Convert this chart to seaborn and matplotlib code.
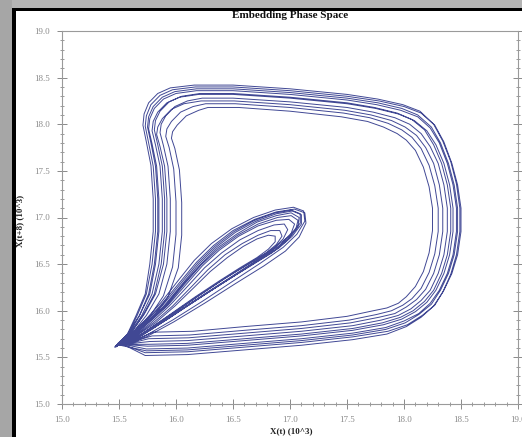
import matplotlib
matplotlib.use("Agg")
import matplotlib.pyplot as plt
from matplotlib.patches import Rectangle
from matplotlib.ticker import MultipleLocator, FormatStrFormatter
import seaborn as sns
import pandas as pd

# ---- traced loops: inner lobe ("ellipse") + outer D-shaped loop, per cycle ----
ellipse_1 = [(15.47,15.62),(15.60,15.72),(15.75,15.88),(15.90,16.06),(16.05,16.28),(16.20,16.50),(16.35,16.68),(16.52,16.84),(16.70,16.96),(16.88,17.04),(17.02,17.07),(17.10,17.03),(17.10,16.93),(17.02,16.80),(16.90,16.67),(16.70,16.52),(16.45,16.33),(16.20,16.13),(15.95,15.93),(15.72,15.75),(15.55,15.64)]
ellipse_2 = [(15.47,15.62),(15.59,15.73),(15.73,15.90),(15.87,16.09),(16.01,16.31),(16.16,16.54),(16.31,16.72),(16.49,16.88),(16.68,17.00),(16.87,17.08),(17.03,17.11),(17.12,17.07),(17.13,16.96),(17.06,16.82),(16.94,16.68),(16.74,16.51),(16.49,16.31),(16.23,16.10),(15.97,15.90),(15.73,15.73),(15.55,15.63)]
ellipse_3 = [(15.48,15.62),(15.62,15.72),(15.78,15.87),(15.94,16.05),(16.10,16.26),(16.25,16.46),(16.40,16.62),(16.56,16.76),(16.72,16.86),(16.86,16.92),(16.95,16.93),(16.98,16.87),(16.94,16.77),(16.84,16.65),(16.68,16.52),(16.48,16.36),(16.25,16.18),(16.02,15.99),(15.80,15.81),(15.62,15.68),(15.52,15.63)]
ellipse_4 = [(15.47,15.62),(15.61,15.72),(15.76,15.88),(15.92,16.06),(16.07,16.28),(16.22,16.49),(16.37,16.66),(16.54,16.81),(16.72,16.93),(16.89,17.00),(17.01,17.02),(17.07,16.97),(17.05,16.87),(16.97,16.75),(16.84,16.62),(16.64,16.47),(16.40,16.29),(16.16,16.10),(15.92,15.91),(15.70,15.74),(15.54,15.64)]
ellipse_5 = [(15.47,15.61),(15.60,15.72),(15.74,15.89),(15.89,16.07),(16.04,16.29),(16.19,16.51),(16.34,16.69),(16.51,16.85),(16.69,16.97),(16.87,17.05),(17.01,17.08),(17.09,17.04),(17.09,16.94),(17.00,16.81),(16.87,16.68),(16.67,16.53),(16.42,16.34),(16.17,16.14),(15.93,15.94),(15.71,15.76),(15.54,15.64)]
ellipse_6 = [(15.48,15.62),(15.63,15.72),(15.80,15.87),(15.97,16.05),(16.13,16.25),(16.28,16.44),(16.43,16.60),(16.58,16.72),(16.72,16.81),(16.83,16.86),(16.91,16.86),(16.93,16.80),(16.88,16.71),(16.78,16.61),(16.62,16.49),(16.42,16.34),(16.20,16.16),(15.98,15.97),(15.77,15.80),(15.60,15.67),(15.51,15.63)]
ellipse_7 = [(15.46,15.61),(15.59,15.72),(15.74,15.89),(15.88,16.08),(16.03,16.30),(16.18,16.52),(16.33,16.70),(16.50,16.86),(16.69,16.98),(16.88,17.06),(17.04,17.09),(17.13,17.05),(17.14,16.94),(17.08,16.79),(16.96,16.64),(16.77,16.48),(16.52,16.29),(16.25,16.08),(15.98,15.88),(15.74,15.72),(15.55,15.63)]
ellipse_8 = [(15.48,15.62),(15.61,15.72),(15.77,15.88),(15.93,16.06),(16.08,16.27),(16.23,16.48),(16.38,16.65),(16.55,16.80),(16.72,16.91),(16.88,16.97),(16.99,16.98),(17.04,16.93),(17.01,16.83),(16.92,16.71),(16.78,16.59),(16.58,16.43),(16.35,16.25),(16.11,16.06),(15.88,15.88),(15.67,15.72),(15.53,15.63)]
ellipse_9 = [(15.47,15.62),(15.60,15.72),(15.75,15.88),(15.91,16.06),(16.06,16.28),(16.21,16.49),(16.36,16.67),(16.53,16.82),(16.71,16.95),(16.88,17.02),(17.01,17.05),(17.08,17.00),(17.07,16.90),(16.99,16.78),(16.87,16.65),(16.67,16.50),(16.43,16.31),(16.18,16.12),(15.94,15.92),(15.71,15.75),(15.54,15.64)]
ellipse_10 = [(15.48,15.62),(15.64,15.72),(15.82,15.87),(15.99,16.05),(16.15,16.24),(16.30,16.42),(16.45,16.57),(16.59,16.69),(16.71,16.77),(16.81,16.81),(16.87,16.80),(16.87,16.74),(16.81,16.66),(16.71,16.57),(16.56,16.46),(16.38,16.32),(16.17,16.15),(15.96,15.97),(15.76,15.80),(15.60,15.67),(15.51,15.63)]

outer_1 = [(15.75,15.62),(16.10,15.63),(16.60,15.68),(17.10,15.73),(17.55,15.79),(17.82,15.85),(17.98,15.91),(18.10,15.99),(18.20,16.09),(18.28,16.22),(18.35,16.40),(18.40,16.60),(18.43,16.85),(18.43,17.10),(18.40,17.35),(18.35,17.58),(18.28,17.78),(18.20,17.93),(18.09,18.04),(17.95,18.11),(17.75,18.17),(17.50,18.22),(17.00,18.28),(16.50,18.32),(16.20,18.32),(16.03,18.29),(15.92,18.23),(15.84,18.13),(15.80,18.03),(15.79,17.93),(15.82,17.78),(15.86,17.55),(15.88,17.20),(15.88,16.85),(15.85,16.50),(15.79,16.18),(15.70,15.95),(15.60,15.77),(15.50,15.65)]
outer_2 = [(15.73,15.55),(16.10,15.56),(16.60,15.61),(17.10,15.66),(17.55,15.72),(17.86,15.78),(18.03,15.85),(18.16,15.95),(18.27,16.06),(18.35,16.22),(18.42,16.40),(18.47,16.60),(18.50,16.85),(18.50,17.10),(18.47,17.35),(18.42,17.58),(18.35,17.81),(18.27,17.99),(18.15,18.12),(18.00,18.19),(17.78,18.25),(17.50,18.30),(17.00,18.36),(16.50,18.40),(16.17,18.40),(15.97,18.37),(15.86,18.31),(15.78,18.21),(15.74,18.09),(15.73,17.98),(15.76,17.80),(15.80,17.55),(15.82,17.20),(15.82,16.85),(15.79,16.50),(15.74,16.18),(15.66,15.95),(15.58,15.75),(15.49,15.65)]
outer_3 = [(15.80,15.77),(16.15,15.78),(16.60,15.83),(17.10,15.88),(17.50,15.94),(17.73,16.00),(17.85,16.03),(17.95,16.08),(18.02,16.15),(18.10,16.26),(18.17,16.42),(18.22,16.62),(18.25,16.86),(18.25,17.10),(18.22,17.33),(18.17,17.54),(18.10,17.72),(18.02,17.83),(17.94,17.90),(17.82,17.97),(17.68,18.03),(17.45,18.08),(17.00,18.14),(16.55,18.18),(16.28,18.18),(16.20,18.15),(16.09,18.09),(16.01,17.99),(15.97,17.92),(15.96,17.85),(15.99,17.74),(16.03,17.51),(16.05,17.16),(16.05,16.81),(16.02,16.46),(15.93,16.15),(15.80,15.93),(15.67,15.80),(15.52,15.66)]
outer_4 = [(15.77,15.67),(16.10,15.68),(16.60,15.73),(17.10,15.78),(17.55,15.84),(17.80,15.90),(17.95,15.95),(18.06,16.02),(18.15,16.11),(18.23,16.22),(18.30,16.40),(18.35,16.60),(18.38,16.85),(18.38,17.10),(18.35,17.35),(18.30,17.58),(18.23,17.76),(18.15,17.90),(18.05,18.00),(17.92,18.07),(17.73,18.13),(17.50,18.18),(17.00,18.24),(16.50,18.28),(16.23,18.28),(16.10,18.25),(15.99,18.19),(15.91,18.09),(15.87,18.00),(15.86,17.91),(15.89,17.77),(15.93,17.55),(15.95,17.20),(15.95,16.85),(15.92,16.50),(15.85,16.18),(15.74,15.95),(15.63,15.78),(15.51,15.65)]
outer_5 = [(15.74,15.59),(16.10,15.60),(16.60,15.65),(17.10,15.70),(17.55,15.76),(17.84,15.82),(18.00,15.89),(18.13,15.97),(18.23,16.08),(18.31,16.22),(18.38,16.40),(18.43,16.60),(18.46,16.85),(18.46,17.10),(18.43,17.35),(18.38,17.58),(18.31,17.80),(18.23,17.96),(18.12,18.08),(17.97,18.15),(17.76,18.21),(17.50,18.26),(17.00,18.32),(16.50,18.36),(16.18,18.36),(16.00,18.33),(15.89,18.27),(15.81,18.17),(15.77,18.06),(15.76,17.95),(15.79,17.79),(15.83,17.55),(15.85,17.20),(15.85,16.85),(15.82,16.50),(15.77,16.18),(15.68,15.95),(15.59,15.76),(15.50,15.65)]
outer_6 = [(15.79,15.73),(16.12,15.74),(16.60,15.79),(17.10,15.84),(17.52,15.90),(17.76,15.96),(17.89,16.00),(17.99,16.06),(18.07,16.13),(18.15,16.24),(18.22,16.41),(18.27,16.61),(18.30,16.85),(18.30,17.10),(18.27,17.34),(18.22,17.56),(18.15,17.74),(18.07,17.86),(17.98,17.94),(17.86,18.01),(17.70,18.07),(17.47,18.12),(17.00,18.18),(16.52,18.22),(16.26,18.22),(16.15,18.19),(16.04,18.13),(15.96,18.03),(15.92,17.95),(15.91,17.87),(15.94,17.75),(15.98,17.52),(16.00,17.17),(16.00,16.82),(15.97,16.47),(15.89,16.16),(15.77,15.94),(15.65,15.80),(15.51,15.66)]
outer_7 = [(15.73,15.52),(16.10,15.53),(16.60,15.58),(17.10,15.63),(17.55,15.69),(17.85,15.75),(18.02,15.83),(18.15,15.93),(18.26,16.05),(18.34,16.20),(18.41,16.39),(18.46,16.60),(18.49,16.85),(18.49,17.10),(18.46,17.36),(18.41,17.60),(18.34,17.82),(18.26,18.00),(18.14,18.14),(17.99,18.21),(17.77,18.27),(17.50,18.32),(17.00,18.38),(16.50,18.42),(16.16,18.42),(15.95,18.39),(15.84,18.33),(15.76,18.23),(15.72,18.11),(15.71,17.99),(15.74,17.81),(15.78,17.56),(15.80,17.20),(15.80,16.85),(15.77,16.50),(15.73,16.18),(15.65,15.95),(15.57,15.74),(15.49,15.64)]
outer_8 = [(15.76,15.70),(16.11,15.71),(16.60,15.76),(17.10,15.81),(17.53,15.87),(17.78,15.93),(17.92,15.97),(18.02,16.04),(18.11,16.12),(18.19,16.23),(18.26,16.40),(18.31,16.60),(18.34,16.85),(18.34,17.10),(18.31,17.35),(18.26,17.58),(18.19,17.75),(18.11,17.88),(18.01,17.97),(17.89,18.04),(17.71,18.10),(17.48,18.15),(17.00,18.21),(16.51,18.25),(16.22,18.25),(16.07,18.22),(15.96,18.16),(15.88,18.06),(15.84,17.97),(15.83,17.89),(15.86,17.76),(15.90,17.55),(15.92,17.20),(15.92,16.85),(15.89,16.50),(15.82,16.18),(15.72,15.96),(15.62,15.79),(15.50,15.65)]
outer_9 = [(15.76,15.64),(16.10,15.65),(16.60,15.70),(17.10,15.75),(17.55,15.81),(17.81,15.87),(17.97,15.93),(18.08,16.00),(18.18,16.10),(18.26,16.22),(18.33,16.40),(18.38,16.60),(18.41,16.85),(18.41,17.10),(18.38,17.35),(18.33,17.58),(18.26,17.78),(18.18,17.94),(18.07,18.05),(17.94,18.12),(17.74,18.18),(17.50,18.23),(17.00,18.29),(16.50,18.33),(16.21,18.33),(16.05,18.30),(15.94,18.24),(15.86,18.14),(15.82,18.04),(15.81,17.94),(15.84,17.78),(15.88,17.55),(15.90,17.20),(15.90,16.85),(15.87,16.50),(15.81,16.18),(15.71,15.95),(15.61,15.77),(15.50,15.65)]
outer_10 = [(15.74,15.57),(16.10,15.58),(16.60,15.63),(17.10,15.68),(17.55,15.74),(17.84,15.80),(18.01,15.87),(18.13,15.96),(18.24,16.07),(18.32,16.22),(18.39,16.40),(18.44,16.60),(18.47,16.85),(18.47,17.10),(18.44,17.35),(18.39,17.58),(18.32,17.80),(18.24,17.97),(18.12,18.10),(17.98,18.17),(17.77,18.23),(17.50,18.28),(17.00,18.34),(16.50,18.38),(16.18,18.38),(15.99,18.35),(15.88,18.29),(15.80,18.19),(15.76,18.08),(15.75,17.97),(15.78,17.80),(15.82,17.55),(15.84,17.20),(15.84,16.85),(15.81,16.50),(15.76,16.18),(15.68,15.95),(15.58,15.76),(15.50,15.65)]

cycles = [(ellipse_1, outer_1), (ellipse_2, outer_2), (ellipse_3, outer_3), (ellipse_4, outer_4),
          (ellipse_5, outer_5), (ellipse_6, outer_6), (ellipse_7, outer_7), (ellipse_8, outer_8),
          (ellipse_9, outer_9), (ellipse_10, outer_10)]

traj = []
for e, o in cycles:
    traj.extend(e)
    traj.extend(o)
df = pd.DataFrame(traj, columns=["x", "y"])

x_ticks = [15.0, 15.5, 16.0, 16.5, 17.0, 17.5, 18.0, 18.5, 19.0]
y_ticks = [15.0, 15.5, 16.0, 16.5, 17.0, 17.5, 18.0, 18.5, 19.0]

sns.set_theme(style="white")
plt.rcParams['font.family'] = ['Liberation Serif', 'DejaVu Serif']

fig = plt.figure(figsize=(5.22, 4.37), dpi=100)
W, H = 522.0, 437.0
ax = fig.add_axes([62 / W, 1 - 404 / H, 456 / W, 373 / H])

sns.lineplot(data=df, x="x", y="y", sort=False, estimator=None, ax=ax,
             color="#1f2882", lw=0.7, alpha=0.85)

ax.set_xlim(15.0, 19.0)
ax.set_ylim(15.0, 19.0)
ax.set_xticks(x_ticks)
ax.set_yticks(y_ticks)
ax.xaxis.set_major_formatter(FormatStrFormatter('%.1f'))
ax.yaxis.set_major_formatter(FormatStrFormatter('%.1f'))
ax.xaxis.set_minor_locator(MultipleLocator(0.1))
ax.yaxis.set_minor_locator(MultipleLocator(0.1))
ax.tick_params(which='major', direction='inout', length=7, width=0.7, color='#8a8a8a',
               labelsize=6.5, labelcolor='#8a8a8a', pad=5)
ax.tick_params(which='minor', direction='inout', length=3.5, width=0.6, color='#8a8a8a')
ax.tick_params(axis='y', which='both', right=True, left=True)
ax.tick_params(axis='x', which='both', bottom=True)
for s in ax.spines.values():
    s.set_color('#9a9a9a')
    s.set_linewidth(0.8)

ax.set_xlabel("X(t) (10^3)", fontsize=6.5, fontweight='bold', color='#222222')
ax.set_ylabel("X(t+8) (10^3)", fontsize=6.5, fontweight='bold', color='#222222')
ax.xaxis.set_label_coords(0.502, -0.062)
ax.yaxis.set_label_coords(-0.082, 0.49)

fig.text(290 / W, 1 - 15 / H, "Embedding Phase Space", ha='center', va='center',
         fontsize=8, fontweight='bold', color='#111111')

# window frame
fig.patches.append(Rectangle((0, 1 - 8 / H), 1, 8 / H, transform=fig.transFigure,
                             facecolor='#b4b4b4', edgecolor='none', zorder=0))
fig.patches.append(Rectangle((0, 0), 12 / W, 1, transform=fig.transFigure,
                             facecolor='#a6a6a6', edgecolor='none', zorder=0))
fig.patches.append(Rectangle((12 / W, 1 - 11 / H), 1, 3 / H, transform=fig.transFigure,
                             facecolor='black', edgecolor='none', zorder=1))
fig.patches.append(Rectangle((12 / W, 0), 3.5 / W, 1 - 8 / H, transform=fig.transFigure,
                             facecolor='black', edgecolor='none', zorder=1))

fig.savefig("out.png", dpi=100)
